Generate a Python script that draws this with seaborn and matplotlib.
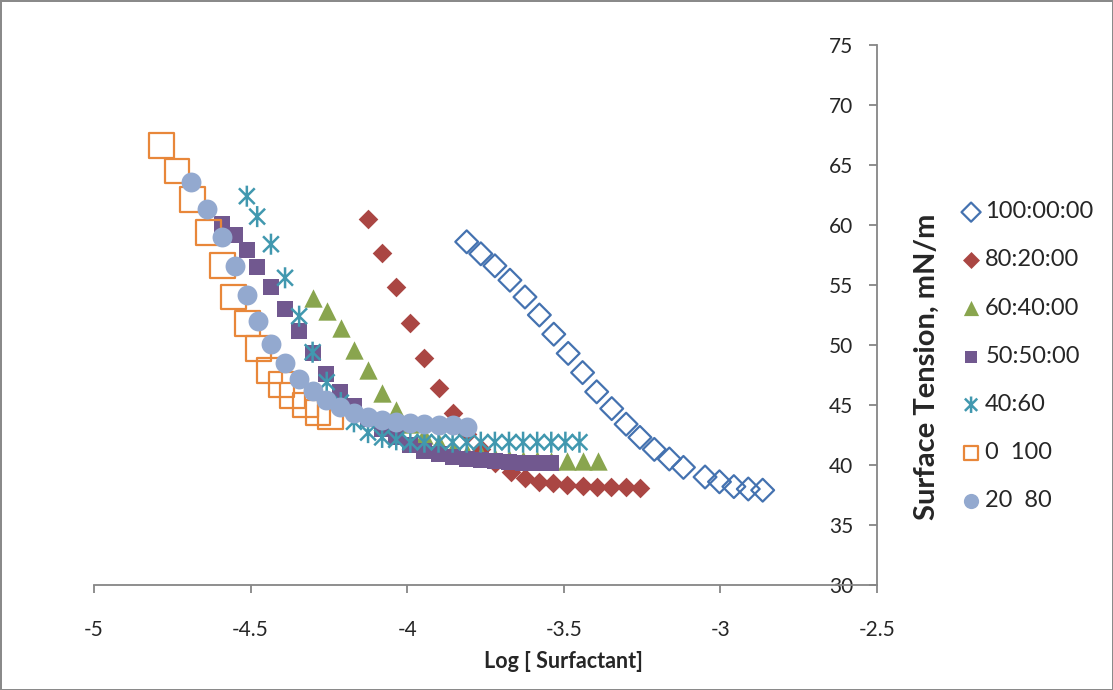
import matplotlib
matplotlib.use("Agg")
import matplotlib.pyplot as plt
from matplotlib.path import Path
import seaborn as sns

# log[surfactant] vs surface tension (mN/m)
labels = ["100:00:00", "80:20:00", "60:40:00", "50:50:00", "40:60", "0  100", "20  80"]

x_100_00 = [-3.81, -3.765, -3.72, -3.672, -3.624, -3.578, -3.532, -3.486, -3.44, -3.395, -3.347,
            -3.301, -3.257, -3.211, -3.163, -3.118, -3.049, -3.003, -2.957, -2.911, -2.865]
y_100_00 = [58.6, 57.6, 56.6, 55.4, 54.0, 52.5, 50.9, 49.3, 47.7, 46.1, 44.7,
            43.4, 42.3, 41.3, 40.5, 39.8, 39.0, 38.6, 38.2, 38.0, 37.9]

x_80_20 = [-4.125, -4.08, -4.035, -3.99, -3.945, -3.90, -3.855, -3.81, -3.765, -3.72,
           -3.67, -3.625, -3.58, -3.535, -3.49, -3.44, -3.395, -3.35, -3.30, -3.257]
y_80_20 = [60.5, 57.7, 54.8, 51.8, 48.9, 46.4, 44.3, 42.6, 41.3, 40.2,
           39.4, 38.9, 38.6, 38.5, 38.35, 38.25, 38.2, 38.2, 38.15, 38.1]

x_60_40 = [-4.30, -4.255, -4.21, -4.17, -4.125, -4.08, -4.035, -3.99, -3.945, -3.90, -3.855,
           -3.81, -3.765, -3.72, -3.675, -3.63, -3.585, -3.54, -3.49, -3.44, -3.39]
y_60_40 = [53.9, 52.8, 51.4, 49.6, 47.9, 46.0, 44.6, 43.4, 42.5, 41.8, 41.3,
           41.0, 40.8, 40.6, 40.5, 40.4, 40.4, 40.35, 40.3, 40.3, 40.3]

x_50_50 = [-4.59, -4.55, -4.51, -4.48, -4.435, -4.39, -4.345, -4.30, -4.26, -4.215, -4.17, -4.125,
           -4.08, -4.035, -3.99, -3.945, -3.90, -3.855, -3.81, -3.765, -3.72, -3.675, -3.63, -3.585, -3.54]
y_50_50 = [60.1, 59.2, 57.9, 56.5, 54.8, 53.0, 51.2, 49.3, 47.6, 46.1, 44.9, 43.8,
           43.0, 42.3, 41.7, 41.2, 40.9, 40.7, 40.5, 40.4, 40.3, 40.25, 40.2, 40.2, 40.2]

x_40_60 = [-4.512, -4.479, -4.435, -4.39, -4.345, -4.302, -4.257, -4.212, -4.17, -4.125, -4.08, -4.035,
           -3.99, -3.945, -3.90, -3.855, -3.81, -3.765, -3.72, -3.675, -3.63, -3.585, -3.54, -3.495, -3.45]
y_40_60 = [62.4, 60.7, 58.4, 55.6, 52.4, 49.4, 46.9, 45.2, 43.6, 42.7, 42.3, 42.1,
           41.9, 41.9, 41.9, 41.9, 41.9, 41.9, 41.9, 41.9, 41.9, 41.9, 41.9, 41.9, 41.9]

x_0_100 = [-4.785, -4.735, -4.685, -4.635, -4.59, -4.555, -4.51, -4.475, -4.44, -4.40,
           -4.365, -4.325, -4.285, -4.245]
y_0_100 = [66.6, 64.5, 62.1, 59.4, 56.6, 54.0, 51.8, 49.7, 47.9, 46.7,
           45.8, 45.0, 44.4, 44.0]

x_20_80 = [-4.69, -4.64, -4.59, -4.55, -4.51, -4.475, -4.435, -4.39, -4.345, -4.30, -4.26,
           -4.215, -4.17, -4.125, -4.08, -4.035, -3.99, -3.945, -3.90, -3.855, -3.81]
y_20_80 = [63.6, 61.3, 59.0, 56.6, 54.2, 52.0, 50.1, 48.5, 47.2, 46.2, 45.4,
           44.8, 44.3, 44.0, 43.75, 43.6, 43.5, 43.4, 43.3, 43.3, 43.2]

x_ticks = [-5, -4.5, -4, -3.5, -3, -2.5]
y_ticks = [30, 35, 40, 45, 50, 55, 60, 65, 70, 75]

sns.set_theme(style="white")
plt.rcParams["font.family"] = ["Lato", "DejaVu Sans"]
plt.rcParams["axes.unicode_minus"] = False

# excel-style asterisk: X plus a vertical bar
star = Path([(-0.75, -0.75), (0.75, 0.75), (-0.75, 0.75), (0.75, -0.75), (0, -1), (0, 1)],
            [Path.MOVETO, Path.LINETO, Path.MOVETO, Path.LINETO, Path.MOVETO, Path.LINETO])

fig = plt.figure(figsize=(11.13, 6.90), dpi=100)
fig.patch.set_edgecolor("#8a8a8a")
fig.patch.set_linewidth(2)
ax = fig.add_axes([94 / 1113, 105 / 690, 783 / 1113, 540 / 690])

grey = "#868686"
series = [
    (x_100_00, y_100_00, dict(marker="D", s=135, facecolor="none", edgecolor="#4472b0", linewidth=1.6)),
    (x_80_20, y_80_20, dict(marker="D", s=100, color="#aa4643", edgecolor="#aa4643", linewidth=0)),
    (x_60_40, y_60_40, dict(marker="^", s=175, color="#89a54e", edgecolor="#89a54e", linewidth=0)),
    (x_50_50, y_50_50, dict(marker="s", s=120, color="#71588f", edgecolor="#71588f", linewidth=0)),
    (x_40_60, y_40_60, dict(marker=star, s=230, facecolor="none", edgecolor="#4198af", linewidth=1.8)),
    (x_0_100, y_0_100, dict(marker="s", s=320, facecolor="none", edgecolor="#e8873a", linewidth=1.6)),
    (x_20_80, y_20_80, dict(marker="o", s=205, color="#93a9cf", edgecolor="#93a9cf", linewidth=0)),
]
for (xs, ys, kw), lab in zip(series, labels):
    sns.scatterplot(x=xs, y=ys, ax=ax, label=lab, **kw)

ax.set_xlim(-5, -2.5)
ax.set_ylim(30, 75)
ax.set_xticks(x_ticks)
ax.set_xticklabels([f"{t:g}" for t in x_ticks])
ax.set_yticks(y_ticks)

# vertical axis crosses at the right end of the x range
ax.spines["left"].set_position(("data", -2.5))
ax.spines["right"].set_visible(False)
ax.spines["top"].set_visible(False)
for sp in ("left", "bottom"):
    ax.spines[sp].set_color(grey)
    ax.spines[sp].set_linewidth(1.3)
ax.tick_params(axis="x", direction="out", length=6, width=1.3, color=grey, pad=19, labelsize=15)
ax.tick_params(axis="y", direction="out", length=6, width=1.3, color=grey, pad=11, labelsize=15)
ax.tick_params(bottom=True, left=True)

ax.set_xlabel("Log [ Surfactant]", fontsize=15.5, fontweight="bold")
ax.xaxis.set_label_coords(0.599, -0.122)
ax.set_ylabel("")
ax.text(1.064, 0.404, "Surface Tension, mN/m", transform=ax.transAxes, rotation=90,
        ha="center", va="center", fontsize=21, fontweight="bold")

leg = ax.legend(loc="upper left", bbox_to_anchor=(1.093, 0.728), frameon=False, fontsize=17,
                labelspacing=1.15, handletextpad=0.1, handlelength=1.0, borderaxespad=0)
# legend symbols are all drawn at about the same size
for h, sz in zip(leg.legend_handles, [95, 75, 120, 85, 140, 110, 120]):
    h.set_sizes([sz])

fig.savefig("out.png", dpi=100)
